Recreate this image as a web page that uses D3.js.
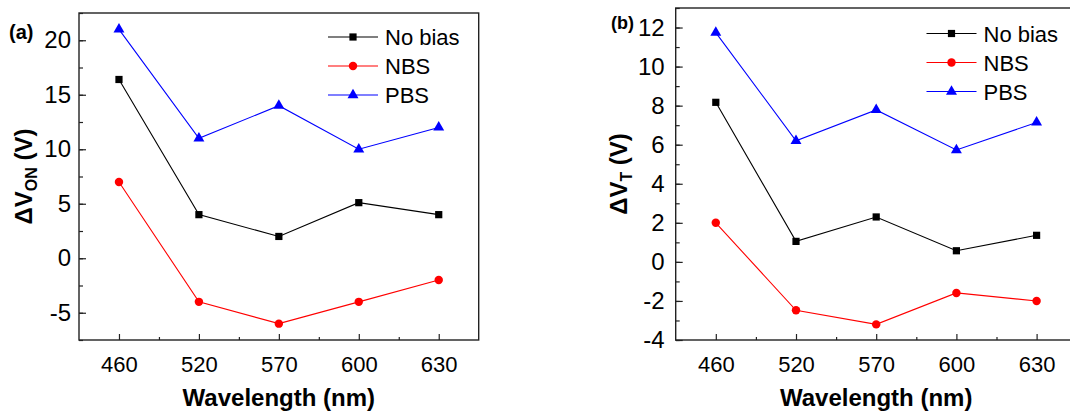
<!DOCTYPE html>
<html>
<head>
<meta charset="utf-8">
<script src="https://cdn.jsdelivr.net/npm/d3@7"></script>
<style>
  body { margin: 0; background: #fff; }
  svg text { font-family: "Liberation Sans", Arial, sans-serif; }
</style>
</head>
<body>
<main></main>
<script>
// wavelengths shared by both panels
const wavelengths = [460, 520, 570, 600, 630];
const seriesNames = ["No bias", "NBS", "PBS"];

// panel (a) delta V_on
const vonNoBias = [16.4, 4, 2, 5.1, 4];
const vonNBS = [7, -4, -6, -4, -2];
const vonPBS = [21, 11, 14, 10, 12];
const vonTicks = [-5, 0, 5, 10, 15, 20];

// panel (b) delta V_T
const vtNoBias = [8.17, 1.05, 2.3, 0.57, 1.36];
const vtNBS = [2.0, -2.48, -3.2, -1.59, -2.0];
const vtPBS = [11.74, 6.2, 7.78, 5.73, 7.14];
const vtTicks = [-4, -2, 0, 2, 4, 6, 8, 10, 12];

const width = 1070, height = 414;
const colors = ["#000000", "#ff0000", "#0000ff"];
const symbols = [d3.symbolSquare, d3.symbolCircle, d3.symbolTriangle];
const symSizes = [52, 56, 52];
const axisColor = "#222";

const svg = d3.select("main").append("svg")
    .attr("width", width)
    .attr("height", height);

function drawPanel(cfg) {
    const g = svg.append("g");
    const x = d3.scaleLinear().domain([-0.5, wavelengths.length - 0.5]).range([cfg.left, cfg.right]);
    const y = d3.scaleLinear().domain(cfg.yDomain).range([cfg.bottom, cfg.top]);

    // frame
    g.append("rect")
        .attr("x", cfg.left).attr("y", cfg.top)
        .attr("width", cfg.right - cfg.left).attr("height", cfg.bottom - cfg.top)
        .attr("fill", "none").attr("stroke", axisColor).attr("stroke-width", 1.4);

    // minor ticks
    const xMinor = d3.range(0.5, wavelengths.length - 1, 1);
    g.append("g").attr("transform", `translate(0,${cfg.bottom})`)
        .call(d3.axisBottom(x).tickValues(xMinor).tickSize(-3).tickFormat(""))
        .call(a => a.select(".domain").remove());
    g.append("g").attr("transform", `translate(${cfg.left},0)`)
        .call(d3.axisLeft(y).tickValues(cfg.yMinor).tickSize(-4).tickFormat(""))
        .call(a => a.select(".domain").remove());

    // major ticks + labels
    const xAxis = g.append("g").attr("transform", `translate(0,${cfg.bottom})`)
        .call(d3.axisBottom(x).tickValues(d3.range(wavelengths.length))
            .tickSize(-6).tickPadding(16).tickFormat(i => wavelengths[i]));
    xAxis.select(".domain").remove();
    xAxis.selectAll("text").attr("font-size", 22).attr("fill", "#000");

    // plain hyphen for negatives, as in the original figure
    const yAxis = g.append("g").attr("transform", `translate(${cfg.left},0)`)
        .call(d3.axisLeft(y).tickValues(cfg.yTicks).tickSize(-7).tickPadding(cfg.yPad).tickFormat(d => String(d)));
    yAxis.select(".domain").remove();
    yAxis.selectAll("text").attr("font-size", 24).attr("fill", "#000");
    g.selectAll(".tick line").attr("stroke", axisColor).attr("stroke-width", 1.2);

    // series
    const line = d3.line().x((d, i) => x(i)).y(d => y(d));
    cfg.series.forEach((vals, s) => {
        g.append("path").datum(vals)
            .attr("d", line).attr("fill", "none")
            .attr("stroke", colors[s]).attr("stroke-width", 1.1);
        g.selectAll(null).data(vals).join("path")
            .attr("transform", (d, i) => `translate(${x(i)},${y(d)})`)
            .attr("d", d3.symbol(symbols[s], symSizes[s]))
            .attr("fill", colors[s]);
    });

    // legend
    const lg = g.append("g");
    seriesNames.forEach((name, s) => {
        const ly = cfg.legY + s * 29;
        lg.append("line")
            .attr("x1", cfg.legX).attr("x2", cfg.legX + 50)
            .attr("y1", ly).attr("y2", ly)
            .attr("stroke", colors[s]).attr("stroke-width", 1.1);
        lg.append("path")
            .attr("transform", `translate(${cfg.legX + 25},${ly})`)
            .attr("d", d3.symbol(symbols[s], symSizes[s]))
            .attr("fill", colors[s]);
        lg.append("text")
            .attr("x", cfg.legX + 57).attr("y", ly + 8)
            .attr("font-size", 22)
            .text(name);
    });

    // axis titles
    g.append("text")
        .attr("x", (cfg.left + cfg.right) / 2).attr("y", 406)
        .attr("text-anchor", "middle")
        .attr("font-size", 24).attr("font-weight", "bold")
        .text("Wavelength (nm)");

    const yt = g.append("text")
        .attr("transform", `translate(${cfg.yTitleX},${(cfg.top + cfg.bottom) / 2}) rotate(-90)`)
        .attr("text-anchor", "middle")
        .attr("font-size", 24).attr("font-weight", "bold");
    yt.append("tspan").text("ΔV");
    yt.append("tspan").attr("font-size", 16).attr("dy", 5).text(cfg.sub);
    yt.append("tspan").attr("dy", -5).text(" (V)");

    g.append("text")
        .attr("x", cfg.tagX).attr("y", cfg.tagY)
        .attr("font-size", cfg.tagSize).attr("font-weight", "bold")
        .text(cfg.tag);
}

drawPanel({
    left: 79, right: 478.7, top: 13, bottom: 340,
    yDomain: [-7.5, 22.5], yTicks: vonTicks, yMinor: d3.range(-7.5, 22.6, 2.5), yPad: 8,
    series: [vonNoBias, vonNBS, vonPBS],
    legX: 328, legY: 37,
    yTitleX: 32, sub: "ON",
    tag: "(a)", tagX: 9, tagY: 39, tagSize: 20
});

drawPanel({
    left: 675.7, right: 1076.7, top: 8, bottom: 340,
    yDomain: [-4, 13], yTicks: vtTicks, yMinor: d3.range(-4, 13.1, 1), yPad: 11,
    series: [vtNoBias, vtNBS, vtPBS],
    legX: 926.5, legY: 33.5,
    yTitleX: 627, sub: "T",
    tag: "(b)", tagX: 611, tagY: 29, tagSize: 18
});
</script>
</body>
</html>
